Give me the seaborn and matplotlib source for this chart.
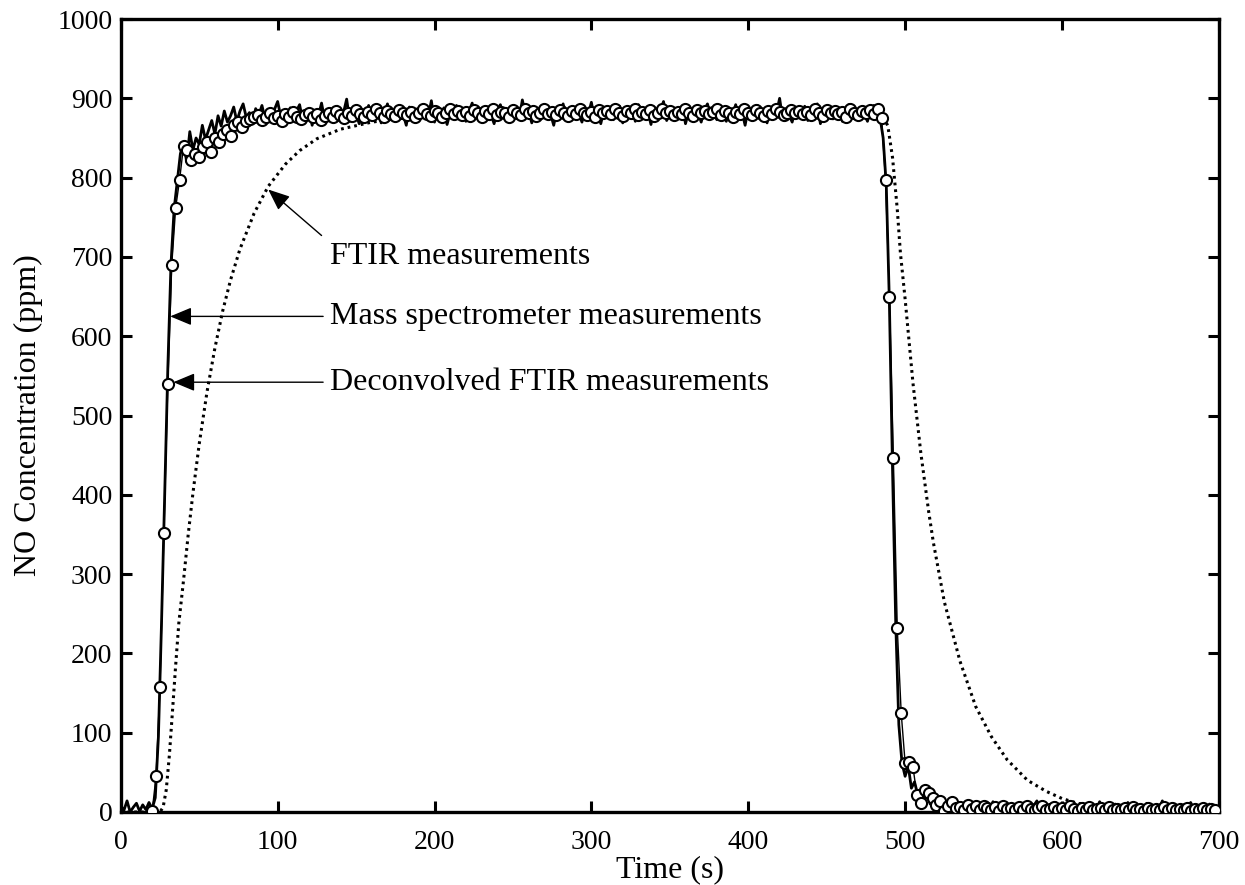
import numpy as np
import matplotlib
matplotlib.use("Agg")
import matplotlib.pyplot as plt
import seaborn as sns

# Mass spectrometer: one value every 2 s, 0..700 s
ms_t = np.arange(0, 701, 2)
ms_c = [
    # 0..18 s baseline
    8, 2, 14, 0, 6, 11, 1, 9, 3, 12,
    # 20..38 s rise
    4, 18, 95, 240, 400, 560, 690, 760, 795, 830,
    # 40..68 s
    845, 820, 858, 835, 850, 842, 866, 848, 860, 872, 855, 878, 865, 884, 870,
    # 70..480 s plateau
    878, 889, 871, 884, 893, 876, 882, 868, 887, 879, 891, 874, 883, 870, 886, 896, 877, 881, 869, 888,
    875, 884, 892, 872, 880, 887, 866, 883, 878, 894, 873, 885, 879, 870, 890, 876, 882, 899, 871, 884,
    880, 868, 886, 877, 891, 874, 883, 888, 869, 879, 893, 875, 884, 872, 887, 880, 866, 889, 878, 885,
    873, 890, 881, 876, 897, 870, 884, 879, 888, 867, 882, 875, 891, 878, 886, 871, 883, 894, 877, 880,
    886, 872, 889, 879, 868, 885, 892, 876, 881, 870, 887, 883, 874, 898, 879, 884, 869, 888, 877, 882,
    891, 875, 880, 866, 886, 878, 893, 872, 884, 889, 876, 881, 870, 887, 879, 895, 874, 883, 868, 885,
    879, 888, 873, 882, 890, 869, 884, 877, 886, 871, 892, 880, 875, 883, 867, 889, 878, 885, 896, 872,
    881, 887, 874, 879, 890, 868, 883, 876, 888, 882, 870, 885, 893, 877, 880, 873, 889, 884, 871, 886,
    878, 892, 875, 883, 866, 887, 880, 874, 891, 879, 884, 869, 888, 876, 882, 900, 873, 885, 879, 870,
    886, 881, 876, 890, 872, 884, 879, 893, 868, 883, 877, 889, 874, 882, 886, 871, 880, 892, 878, 884,
    875, 888, 880, 871, 886, 891,
    # 482..498 s fall
    882, 876, 850, 790, 640, 430, 240, 110, 62,
    # 500..530 s
    45, 58, 30, 38, 22, 28, 15, 20, 10, 14, 6, 12, 4, 9, 3, 8,
    # 532..700 s baseline
    3, 9, 1, 6, 12, 2, 7, 0, 10, 4, 8, 1, 13, 5, 2, 9, 0, 6, 11, 3,
    7, 1, 10, 4, 0, 8, 14, 2, 6, 9, 1, 5, 12, 3, 0, 7, 10, 2, 8, 4,
    11, 1, 6, 0, 9, 3, 13, 5, 2, 8, 0, 10, 4, 7, 1, 12, 3, 6, 0, 9,
    2, 11, 5, 1, 8, 4, 14, 0, 7, 3, 10, 2, 6, 9, 1, 12, 4, 0, 8, 5,
    3, 10, 1, 7, 2,
]

# Deconvolved FTIR: one value every 2.5 s, 20..697.5 s
dec_t = np.arange(20, 700, 2.5)
dec_c = [
    1, 45, 158, 352, 540, 690, 762, 797, 840,
    835, 822, 830, 826, 838, 845, 832, 850, 845, 855, 860, 852, 866, 870, 864, 872,
    874, 876, 879, 873, 877, 881, 875, 878, 872, 880, 876, 883, 877, 874, 879, 882, 876, 880, 873, 878,
    881, 877, 884, 879, 875, 882, 878, 885, 880, 876, 883, 879, 886, 881, 877, 884, 880, 878, 885, 882,
    879, 883, 877, 881, 886, 880, 878, 884, 881, 876, 882, 887, 880, 884, 879, 883, 878, 885, 881, 877,
    884, 880, 886, 879, 883, 881, 877, 885, 882, 879, 886, 881, 884, 878, 882, 887, 880, 883, 879, 885,
    881, 878, 884, 880, 886, 882, 879, 883, 877, 885, 881, 884, 880, 887, 882, 878, 884, 881, 886, 879,
    883, 880, 885, 878, 882, 886, 881, 884, 879, 883, 880, 887, 882, 878, 885, 881, 884, 880, 883, 886,
    879, 884, 881, 877, 883, 880, 886, 882, 879, 885, 881, 878, 884, 880, 887, 883, 879, 882, 885, 881,
    884, 880, 883, 879, 886, 882, 878, 885, 881, 884, 880, 883, 877, 886, 882, 879, 884, 881, 885, 880,
    887,
    875, 797, 650, 447, 232, 125, 62, 63, 57, 21, 11, 28, 24, 18, 9, 14, 1, 8, 12, 5,
    6, 3, 9, 4, 7, 2, 8, 5, 3, 6, 1, 7, 4, 5, 2, 6, 3, 8, 4, 2,
    5, 7, 3, 4, 6, 2, 5, 3, 7, 4, 1, 5, 3, 6, 2, 4, 5, 3, 6, 2,
    4, 3, 5, 2, 6, 3, 4, 1, 5, 3, 4, 2, 6, 3, 5, 2, 4, 3, 5, 1,
    4, 3, 5, 2, 4, 3,
]

# FTIR (slow response)
ftir_t = [0, 20, 25, 27, 29, 31, 33, 35, 37, 40, 43, 46, 50, 55, 60, 65, 70, 76, 85, 94,
          105, 114, 125, 140, 160, 180, 200, 300, 400, 482, 486, 489, 492, 495, 497, 500,
          505, 510, 515, 518, 525, 535, 545, 555, 565, 578, 590, 600, 610, 620, 630, 640,
          660, 680, 700]
ftir_c = [0, 0, 0, 6, 28, 72, 128, 185, 238, 292, 350, 402, 464, 530, 585, 632, 671, 710, 755, 789,
          817, 834, 849, 861, 870, 875, 878, 880, 880, 880, 878, 865, 825, 760, 705, 647,
          541, 453, 379, 340, 265, 190, 133, 95, 66, 40, 26, 17, 11, 7, 4, 3,
          1, 0, 0]

sns.set_style("ticks")
plt.rcParams["font.family"] = ["Liberation Serif", "DejaVu Serif"]
plt.rcParams["text.color"] = "k"
plt.rcParams["axes.labelcolor"] = "k"

fig, ax = plt.subplots(figsize=(12.45, 8.85), dpi=100)
fig.subplots_adjust(left=0.097, right=0.979, bottom=0.0825, top=0.9785)

sns.lineplot(x=ftir_t, y=ftir_c, ax=ax, color="k", linewidth=2.2,
             linestyle=(0, (0.9, 1.3)), dash_capstyle="butt", zorder=2)
sns.lineplot(x=ms_t, y=ms_c, ax=ax, color="k", linewidth=2.0, zorder=3)
sns.lineplot(x=dec_t, y=dec_c, ax=ax, color="k", linewidth=1.0, marker="o",
             markersize=8, markerfacecolor="white", markeredgecolor="k",
             markeredgewidth=1.5, zorder=4)

arrow = dict(arrowstyle="-|>,head_length=0.6,head_width=0.25", color="k",
             lw=1.0, mutation_scale=22, shrinkA=0, shrinkB=0)
ax.annotate("", xy=(94, 785), xytext=(128, 727), arrowprops=arrow, zorder=5)
ax.annotate("", xy=(31.5, 625), xytext=(129, 625), arrowprops=arrow, zorder=5)
ax.annotate("", xy=(33.5, 542), xytext=(129, 542), arrowprops=arrow, zorder=5)
ax.text(133.5, 700, "FTIR measurements", fontsize=23, va="center", ha="left")
ax.text(133.5, 625, "Mass spectrometer measurements", fontsize=23, va="center", ha="left")
ax.text(133.5, 542, "Deconvolved FTIR measurements", fontsize=23, va="center", ha="left")

ax.set_xlim(0, 700)
ax.set_ylim(0, 1000)
ax.set_xticks(np.arange(0, 701, 100))
ax.set_yticks(np.arange(0, 1001, 100))
ax.set_xlabel("Time (s)", fontsize=23, labelpad=0)
ax.set_ylabel("NO Concentration (ppm)", fontsize=23, labelpad=10)
ax.tick_params(direction="in", length=8, width=2.2, top=True, right=True,
               labelsize=20, color="k", labelcolor="k")
ax.tick_params(axis="x", pad=13)
ax.tick_params(axis="y", pad=6)
for s in ax.spines.values():
    s.set_visible(True)
    s.set_linewidth(2.4)
    s.set_color("k")

fig.savefig("out.png", dpi=100, facecolor="white")
